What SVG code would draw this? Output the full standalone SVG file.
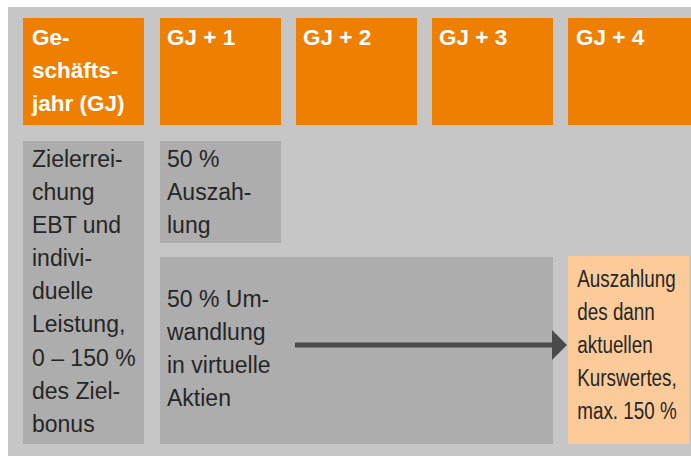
<svg xmlns="http://www.w3.org/2000/svg" width="691" height="456" viewBox="0 0 691 456">
<defs>
<style>
.bg{fill:#c6c6c6}
.hd{fill:#ef7f00}
.bx{fill:#adadad}
.pk{fill:#fdcb99}
.ht{font-family:"Liberation Sans",Arial,Helvetica,sans-serif;font-size:22.5px;font-weight:bold;fill:#ffffff}
.bt{font-family:"Liberation Sans",Arial,Helvetica,sans-serif;font-size:23px;fill:#262626}
.pt{font-family:"Liberation Sans",Arial,Helvetica,sans-serif;font-size:23px;fill:#262626}
</style>
</defs>
<rect x="0" y="0" width="691" height="456" fill="#ffffff"/>
<rect class="bg" x="8" y="7" width="683" height="449"/>
<g id="h0"><rect class="hd" x="23" y="18" width="121" height="107"/><text class="ht" x="32" y="45">Ge-</text><text class="ht" x="32" y="78">schäfts-</text><text class="ht" x="32" y="111">jahr (GJ)</text></g>
<g id="h1"><rect class="hd" x="160" y="18" width="121" height="107"/><text class="ht" x="167" y="45">GJ + 1</text></g>
<g id="h2"><rect class="hd" x="296" y="18" width="121" height="107"/><text class="ht" x="303" y="45">GJ + 2</text></g>
<g id="h3"><rect class="hd" x="432" y="18" width="121" height="107"/><text class="ht" x="439" y="45">GJ + 3</text></g>
<g id="h4"><rect class="hd" x="568" y="18" width="123" height="107"/><text class="ht" x="576" y="45">GJ + 4</text></g>
<g id="ziel"><rect class="bx" x="23" y="141" width="121" height="303"/>
<text class="bt" x="32" y="167">Zielerrei-</text><text class="bt" x="32" y="200">chung</text><text class="bt" x="32" y="233">EBT und</text><text class="bt" x="32" y="266">indivi-</text><text class="bt" x="32" y="299">duelle</text><text class="bt" x="32" y="332">Leistung,</text><text class="bt" x="32" y="366">0 – 150 %</text><text class="bt" x="32" y="399">des Ziel-</text><text class="bt" x="32" y="432">bonus</text></g>
<g id="auszahlung"><rect class="bx" x="160" y="141" width="121" height="102"/>
<text class="bt" x="167" y="167">50 %</text><text class="bt" x="167" y="200">Auszah-</text><text class="bt" x="167" y="233">lung</text></g>
<g id="umwandlung"><rect class="bx" x="160" y="257" width="393" height="187"/>
<text class="bt" x="167" y="307">50 % Um-</text><text class="bt" x="167" y="340">wandlung</text><text class="bt" x="167" y="373">in virtuelle</text><text class="bt" x="167" y="406">Aktien</text></g>
<g id="kurswert"><rect class="pk" x="568" y="256" width="121" height="188"/>
<g transform="scale(0.82,1)"><text class="pt" x="704" y="287">Auszahlung</text><text class="pt" x="704" y="320">des dann</text><text class="pt" x="704" y="353">aktuellen</text><text class="pt" x="704" y="386">Kurswertes,</text><text class="pt" x="704" y="419">max. 150 %</text></g></g>
<g id="connectors"><line x1="295" y1="345" x2="553" y2="345" stroke="#4b4b4b" stroke-width="5"/><polygon points="552,330 567,345 552,360" fill="#4b4b4b"/></g>
</svg>
